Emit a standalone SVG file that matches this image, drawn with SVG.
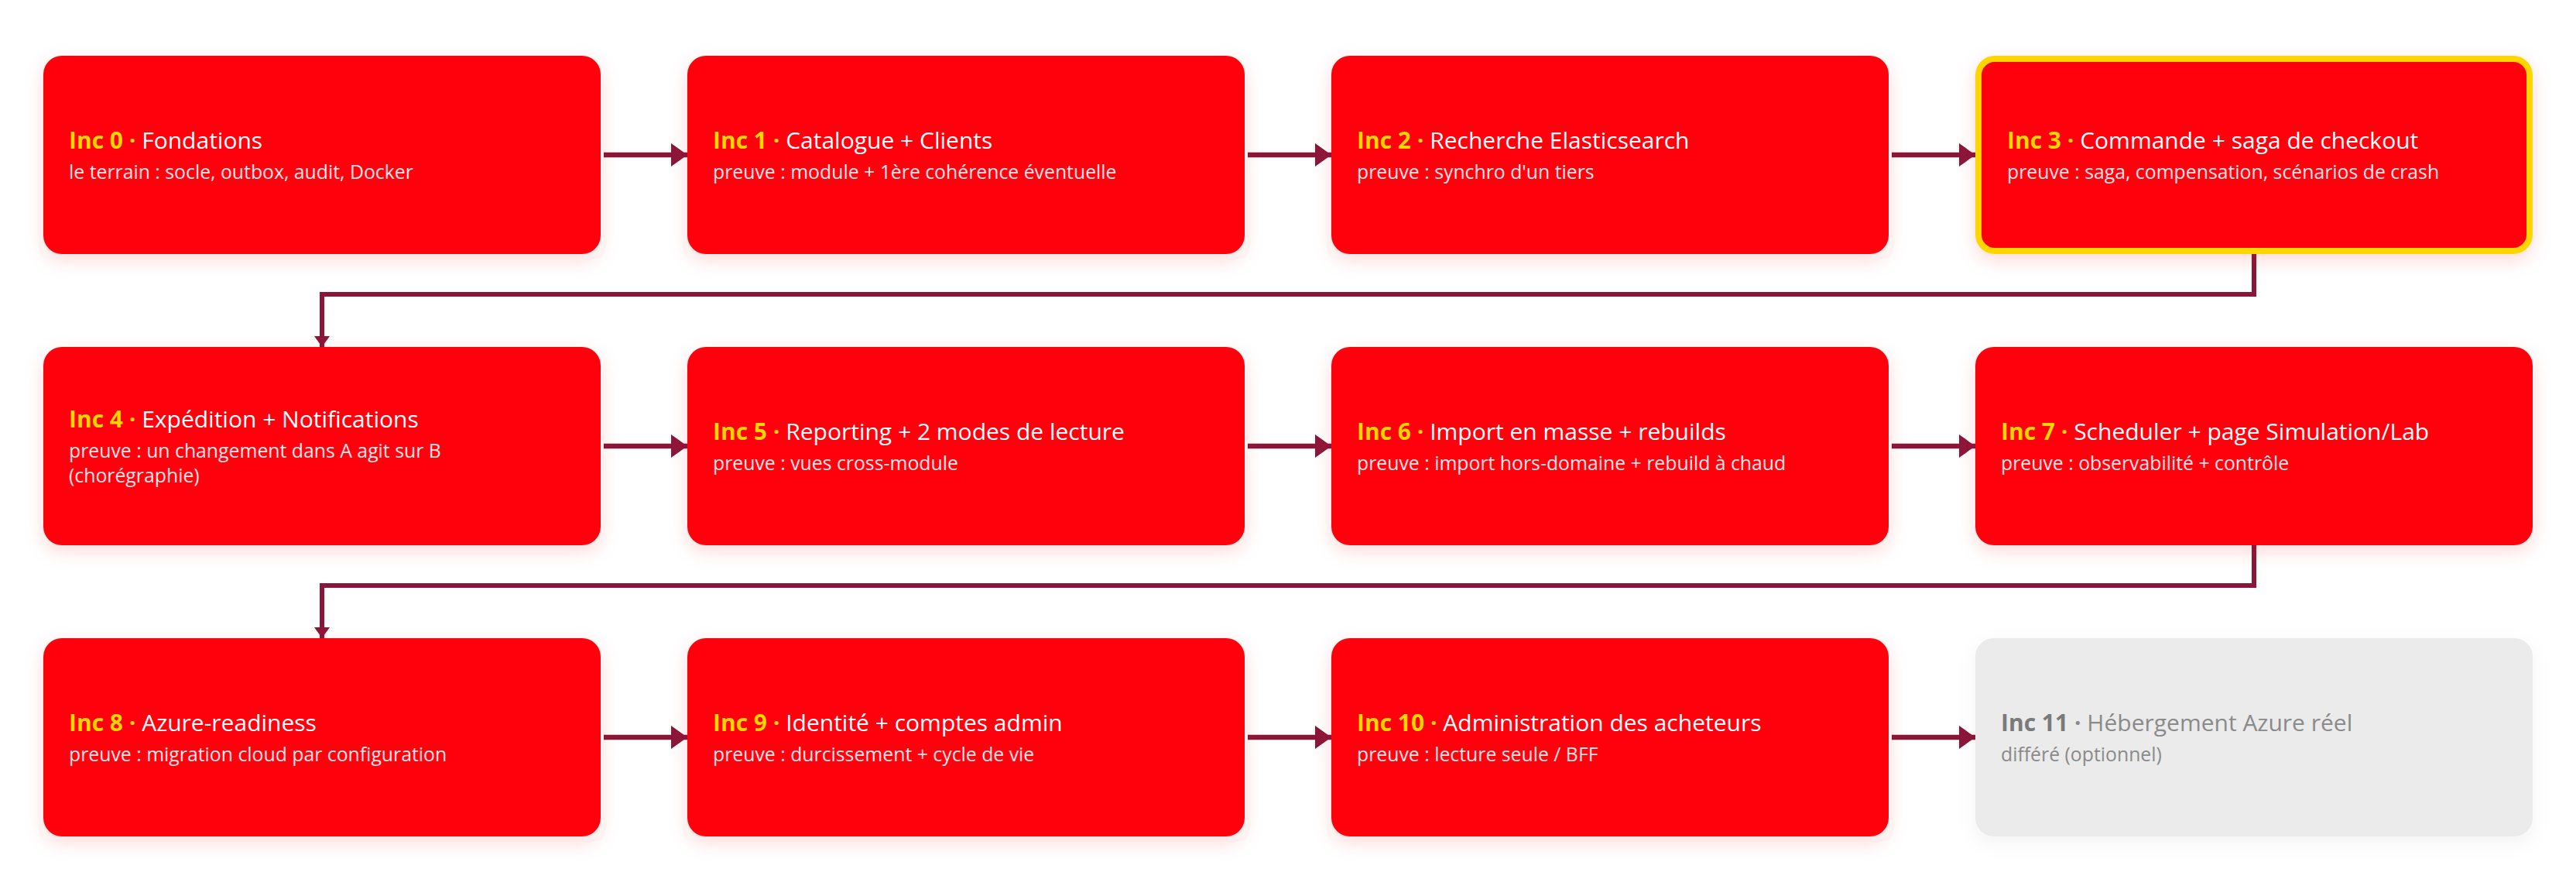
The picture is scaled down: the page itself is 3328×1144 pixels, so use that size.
<svg xmlns="http://www.w3.org/2000/svg" width="3328" height="1144" viewBox="0 0 3328 1144">
<defs>
<filter id="sh" x="-10%" y="-25%" width="120%" height="160%">
<feDropShadow dx="0" dy="8" stdDeviation="12" flood-color="#ff0010" flood-opacity="0.15"/>
</filter>
<filter id="shg" x="-10%" y="-25%" width="120%" height="160%">
<feDropShadow dx="0" dy="8" stdDeviation="12" flood-color="#000" flood-opacity="0.05"/>
</filter>
<marker id="ah" markerUnits="userSpaceOnUse" markerWidth="21" markerHeight="30" refX="21" refY="15" orient="auto">
<path d="M0,0 L21,15 L0,30 Z" fill="#8b1538"/>
</marker>
<marker id="av" markerUnits="userSpaceOnUse" markerWidth="14" markerHeight="20" refX="14" refY="10" orient="auto">
<path d="M0,0 L14,10 L0,20 Z" fill="#8b1538"/>
</marker>
</defs>
<style>
.n{fill:#ff0010;filter:url(#sh)}
.hl{fill:#ff0010;stroke:#ffd500;stroke-width:8;filter:url(#sh)}
.g{fill:#ebebeb;filter:url(#shg)}
text{font-family:"Open Sans","Noto Sans","Liberation Sans",sans-serif}
.t{font-size:30px;fill:#ffffff}
.k{font-weight:700;fill:#ffd500}
.d{font-weight:700;fill:#ffd500}
.s{font-size:24.8px;fill:#ffe4e6}
.tg{font-size:30px;fill:#8a8a8a}
.kg{font-weight:700;fill:#7a7a7a}
.dg{font-weight:700;fill:#8a8a8a}
.sg{font-size:24.8px;fill:#8a8a8a}
.c{fill:none;stroke:#8b1538;stroke-width:6.5}
.cv{fill:none;stroke:#8b1538;stroke-width:6}
</style>
<rect width="3328" height="1144" fill="#ffffff"/>

<g id="connectors">
<line class="c" x1="780" y1="200" x2="888" y2="200" marker-end="url(#ah)"/>
<line class="c" x1="1612" y1="200" x2="1720" y2="200" marker-end="url(#ah)"/>
<line class="c" x1="2444" y1="200" x2="2552" y2="200" marker-end="url(#ah)"/>
<polyline class="cv" points="2912,328 2912,380 416,380 416,448" marker-end="url(#av)"/>
<line class="c" x1="780" y1="576" x2="888" y2="576" marker-end="url(#ah)"/>
<line class="c" x1="1612" y1="576" x2="1720" y2="576" marker-end="url(#ah)"/>
<line class="c" x1="2444" y1="576" x2="2552" y2="576" marker-end="url(#ah)"/>
<polyline class="cv" points="2912,704 2912,756 416,756 416,824" marker-end="url(#av)"/>
<line class="c" x1="780" y1="952" x2="888" y2="952" marker-end="url(#ah)"/>
<line class="c" x1="1612" y1="952" x2="1720" y2="952" marker-end="url(#ah)"/>
<line class="c" x1="2444" y1="952" x2="2552" y2="952" marker-end="url(#ah)"/>
</g>

<g id="inc0">
<rect class="n" x="56" y="72" width="720" height="256" rx="24"/>
<text class="t" x="89" y="192"><tspan class="k">Inc 0</tspan><tspan class="d"> · </tspan>Fondations</text>
<text class="s" x="89" y="231">le terrain : socle, outbox, audit, Docker</text>
</g>
<g id="inc1">
<rect class="n" x="888" y="72" width="720" height="256" rx="24"/>
<text class="t" x="921" y="192"><tspan class="k">Inc 1</tspan><tspan class="d"> · </tspan>Catalogue + Clients</text>
<text class="s" x="921" y="231">preuve : module + 1ère cohérence éventuelle</text>
</g>
<g id="inc2">
<rect class="n" x="1720" y="72" width="720" height="256" rx="24"/>
<text class="t" x="1753" y="192"><tspan class="k">Inc 2</tspan><tspan class="d"> · </tspan>Recherche Elasticsearch</text>
<text class="s" x="1753" y="231">preuve : synchro d'un tiers</text>
</g>
<g id="inc3">
<rect class="hl" x="2556" y="76" width="712" height="248" rx="21"/>
<text class="t" x="2593" y="192"><tspan class="k">Inc 3</tspan><tspan class="d"> · </tspan>Commande + saga de checkout</text>
<text class="s" x="2593" y="231">preuve : saga, compensation, scénarios de crash</text>
</g>

<g id="inc4">
<rect class="n" x="56" y="448" width="720" height="256" rx="24"/>
<text class="t" x="89" y="552"><tspan class="k">Inc 4</tspan><tspan class="d"> · </tspan>Expédition + Notifications</text>
<text class="s" x="89" y="591">preuve : un changement dans A agit sur B</text>
<text class="s" x="89" y="623">(chorégraphie)</text>
</g>
<g id="inc5">
<rect class="n" x="888" y="448" width="720" height="256" rx="24"/>
<text class="t" x="921" y="568"><tspan class="k">Inc 5</tspan><tspan class="d"> · </tspan>Reporting + 2 modes de lecture</text>
<text class="s" x="921" y="607">preuve : vues cross-module</text>
</g>
<g id="inc6">
<rect class="n" x="1720" y="448" width="720" height="256" rx="24"/>
<text class="t" x="1753" y="568"><tspan class="k">Inc 6</tspan><tspan class="d"> · </tspan>Import en masse + rebuilds</text>
<text class="s" x="1753" y="607">preuve : import hors-domaine + rebuild à chaud</text>
</g>
<g id="inc7">
<rect class="n" x="2552" y="448" width="720" height="256" rx="24"/>
<text class="t" x="2585" y="568"><tspan class="k">Inc 7</tspan><tspan class="d"> · </tspan>Scheduler + page Simulation/Lab</text>
<text class="s" x="2585" y="607">preuve : observabilité + contrôle</text>
</g>

<g id="inc8">
<rect class="n" x="56" y="824" width="720" height="256" rx="24"/>
<text class="t" x="89" y="944"><tspan class="k">Inc 8</tspan><tspan class="d"> · </tspan>Azure-readiness</text>
<text class="s" x="89" y="983">preuve : migration cloud par configuration</text>
</g>
<g id="inc9">
<rect class="n" x="888" y="824" width="720" height="256" rx="24"/>
<text class="t" x="921" y="944"><tspan class="k">Inc 9</tspan><tspan class="d"> · </tspan>Identité + comptes admin</text>
<text class="s" x="921" y="983">preuve : durcissement + cycle de vie</text>
</g>
<g id="inc10">
<rect class="n" x="1720" y="824" width="720" height="256" rx="24"/>
<text class="t" x="1753" y="944"><tspan class="k">Inc 10</tspan><tspan class="d"> · </tspan>Administration des acheteurs</text>
<text class="s" x="1753" y="983">preuve : lecture seule / BFF</text>
</g>
<g id="inc11">
<rect class="g" x="2552" y="824" width="720" height="256" rx="24"/>
<text class="tg" x="2585" y="944"><tspan class="kg">Inc 11</tspan><tspan class="dg"> · </tspan>Hébergement Azure réel</text>
<text class="sg" x="2585" y="983">différé (optionnel)</text>
</g>
</svg>
